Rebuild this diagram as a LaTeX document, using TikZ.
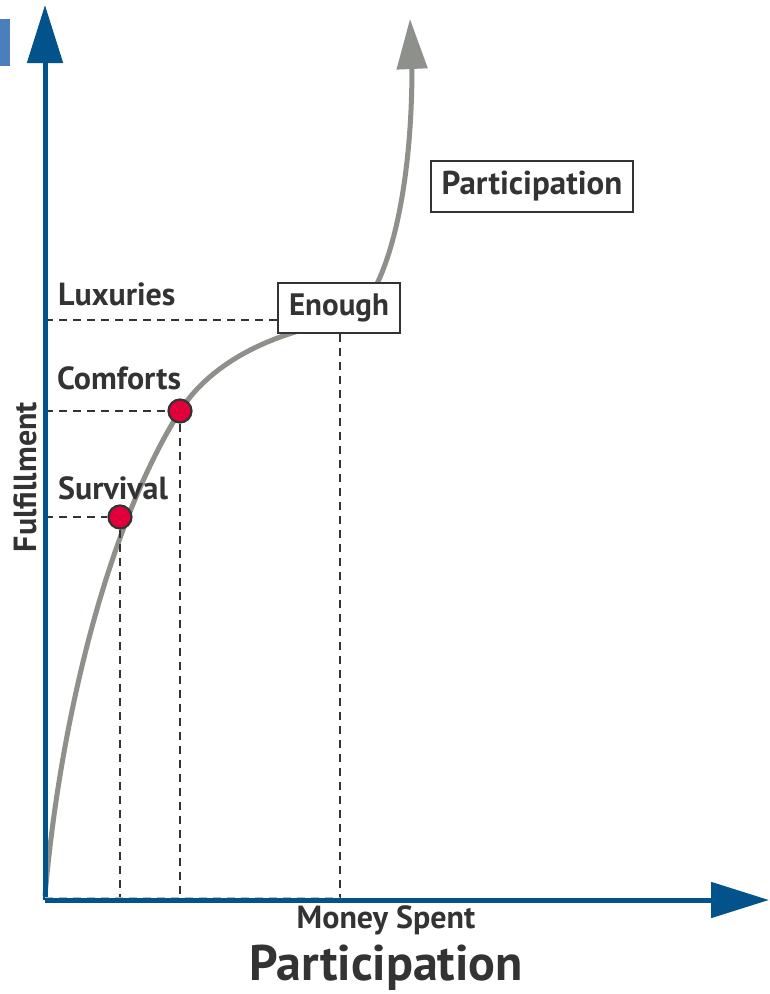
\documentclass[tikz,border=0pt]{standalone}
\usepackage{fontspec}
\setmainfont{PT Sans}
\usetikzlibrary{arrows.meta}
\definecolor{axisblue}{HTML}{02528C}
\definecolor{tabblue}{HTML}{4B7EBC}
\definecolor{curvegrey}{HTML}{8E908B}
\definecolor{ink}{HTML}{333333}
\definecolor{dotred}{HTML}{E2003A}
\tikzset{
  axis/.style={draw=axisblue, line width=5pt, -{Triangle[length=58pt,width=35pt]}},
  curve/.style={draw=curvegrey, line width=5pt, -{Triangle[length=50pt,width=30pt]}},
  guide/.style={draw=ink, line width=2.6pt, dash pattern=on 8pt off 6pt},
  labelfont/.style={font=\bfseries\fontsize{32}{36}\selectfont, text=ink},
  level/.style={labelfont, anchor=base west, inner sep=0pt},
  tagbox/.style={draw=ink, line width=2pt, fill=white, text=ink, inner sep=0pt},
  point/.style={circle, fill=dotred, draw=ink, line width=2.2pt, minimum size=23pt, inner sep=0pt}
}
\begin{document}
\begin{tikzpicture}[x=1pt, y=-1pt]
  \useasboundingbox (0,0) rectangle (769,994);
  \fill[tabblue] (0,19) rectangle (10,66);

  % axis anchors
  \coordinate (O) at (45,900);
  \coordinate (ytip) at (45,5);
  \coordinate (xtip) at (769,900);
  \coordinate (lux) at (45,320);
  \coordinate (com) at (45,411);
  \coordinate (sur) at (45,517);
  \coordinate (enx) at (340,900);
  \coordinate (c0) at (45,896);
  \coordinate (c1) at (180,411);
  \coordinate (c2) at (340,322);
  \coordinate (c3) at (412,66);
  \coordinate (ctip) at (410,19);

  % the curve
  \draw[curve] (c0) .. controls (60,720) and (108,525) .. (c1)
    .. controls (215,356) and (285,330) .. (c2)
    .. controls (377,317) and (412,220) .. (c3) -- (ctip);

  % labelled boxes
  \node[tagbox, font=\bfseries\fontsize{31}{36}\selectfont, minimum width=122pt, minimum height=50pt] (enough) at (339,308) {Enough};
  \node[tagbox, font=\bfseries\fontsize{33}{38}\selectfont, minimum width=202pt, minimum height=51pt] (part) at (532,186) {Participation};

  % guide lines
  \draw[guide] (lux) -- (lux -| enough.west);
  \draw[guide] (enough.south -| enx) -- (enx);

  \node[point] (survival) at (120,517) {};
  \node[point] (comforts) at (180,411) {};
  \draw[guide] (sur) -- (survival.west);
  \draw[guide] (com) -- (comforts.west);
  \draw[guide] (survival.south) -- (survival |- O);
  \draw[guide] (comforts.south) -- (comforts |- O);

  % axes
  \draw[axis] (O) -- (ytip);
  \draw[axis] (O) -- (xtip);
  % faint baseline dashes along the top of the money axis
  \draw[draw=curvegrey!60, line width=1pt, dash pattern=on 8pt off 6pt] (45,897.5) -- (enx |- 45,897.5);

  % labels
  \node[level] (tlux) at (58,305) {Luxuries};
  \node[level] (tcom) at (57,389) {Comforts};
  \node[level] (tsur) at (58,499) {Survival};
  \node[labelfont, rotate=90] (yl) at (25,477) {Fulfillment};
  \node[labelfont] (xl) at (386,920) {Money Spent};
  \node[font=\bfseries\fontsize{50}{56}\selectfont, text=ink] (title) at (386,968) {Participation};
\end{tikzpicture}
\end{document}
